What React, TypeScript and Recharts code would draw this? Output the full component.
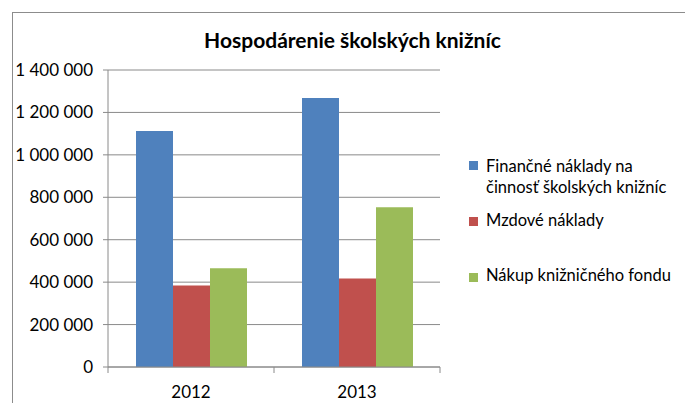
import { BarChart, Bar, XAxis, YAxis, CartesianGrid, Legend } from "recharts";

const roky = ["2012", "2013"];
const financneNaklady = [1112000, 1268000];
const mzdoveNaklady = [384000, 417000];
const nakupFondu = [465000, 753000];
const yTicks = [0, 200000, 400000, 600000, 800000, 1000000, 1200000, 1400000];
const nazvySerii = [
  "Finančné náklady na činnosť školských knižníc",
  "Mzdové náklady",
  "Nákup knižničného fondu",
];
const farby = ["#4F81BD", "#C0504D", "#9BBB59"];

const chartData = roky.map((rok, i) => ({
  rok,
  financne: financneNaklady[i],
  mzdove: mzdoveNaklady[i],
  nakup: nakupFondu[i],
}));

const FONT = "Lato, 'Liberation Sans', sans-serif";
const GRID = "#8a8a8a";

const formatNum = (v: number) =>
  v.toString().replace(/\B(?=(\d{3})+(?!\d))/g, " ");

// ticks on the x axis sit between categories, like in Excel
const XTick = (props: any) => {
  const { x, y, payload, index, visibleTicksCount } = props;
  const half = payload.offset || 0;
  const axisY = y - 8;
  return (
    <g>
      <line x1={x - half} x2={x - half} y1={axisY} y2={axisY + 6} stroke={GRID} />
      {index === visibleTicksCount - 1 && (
        <line x1={x + half} x2={x + half} y1={axisY} y2={axisY + 6} stroke={GRID} />
      )}
      <text x={x} y={axisY + 31} textAnchor="middle" fill="#000" fontSize={17} fontFamily={FONT}>
        {payload.value}
      </text>
    </g>
  );
};

const LegendBox = () => {
  const tops = [6, 60, 115];
  const squareTops = [11, 67, 123];
  return (
    <div style={{ width: 220, height: 140, position: "relative", fontFamily: FONT, fontSize: 16.5, color: "#000" }}>
      {nazvySerii.map((name, i) => (
        <div key={name}>
          <div
            style={{
              position: "absolute",
              left: 7,
              top: squareTops[i],
              width: 9,
              height: 9,
              background: farby[i],
            }}
          />
          <div
            style={{
              position: "absolute",
              left: 24,
              top: tops[i],
              width: 210,
              lineHeight: "21px",
              textAlign: "left",
              whiteSpace: "nowrap",
            }}
          >
            {i === 0 ? (
              <>
                Finančné náklady na
                <br />
                činnosť školských knižníc
              </>
            ) : (
              name
            )}
          </div>
        </div>
      ))}
    </div>
  );
};

const App = () => {
  return (
    <div
      style={{
        position: "absolute",
        left: 0,
        top: 0,
        width: 685,
        height: 403,
        overflow: "hidden",
        background: "#fff",
      }}
    >
      <div
        style={{
          position: "absolute",
          left: 12,
          top: 12,
          width: 720,
          height: 440,
          border: "1px solid #8c8c8c",
        }}
      />
      <div
        style={{
          position: "absolute",
          left: 0,
          width: 705,
          top: 27,
          textAlign: "center",
          fontFamily: FONT,
          fontWeight: 700,
          fontSize: 21,
          color: "#000",
        }}
      >
        Hospodárenie školských knižníc
      </div>
      <div style={{ position: "absolute", left: 0, top: 0 }}>
        <BarChart
          width={685}
          height={403}
          data={chartData}
          margin={{ top: 70, right: 25, bottom: 6, left: 0 }}
          barSize={37}
          barGap={0}
        >
          <CartesianGrid vertical={false} stroke={GRID} />
          <XAxis
            dataKey="rok"
            height={30}
            axisLine={{ stroke: GRID }}
            tickLine={false}
            tick={<XTick />}
            interval={0}
          />
          <YAxis
            width={108}
            domain={[0, 1400000]}
            ticks={yTicks}
            interval={0}
            tickFormatter={formatNum}
            axisLine={{ stroke: GRID }}
            tickLine={{ stroke: GRID }}
            tickSize={5}
            tickMargin={10}
            tick={{ fill: "#000", fontSize: 17, fontFamily: FONT }}
          />
          <Legend
            layout="vertical"
            align="right"
            verticalAlign="middle"
            content={<LegendBox />}
            wrapperStyle={{ top: 150, left: 462, right: "auto" }}
          />
          <Bar dataKey="financne" name={nazvySerii[0]} fill={farby[0]} isAnimationActive={false} />
          <Bar dataKey="mzdove" name={nazvySerii[1]} fill={farby[1]} isAnimationActive={false} />
          <Bar dataKey="nakup" name={nazvySerii[2]} fill={farby[2]} isAnimationActive={false} />
        </BarChart>
      </div>
    </div>
  );
};

export default App;
